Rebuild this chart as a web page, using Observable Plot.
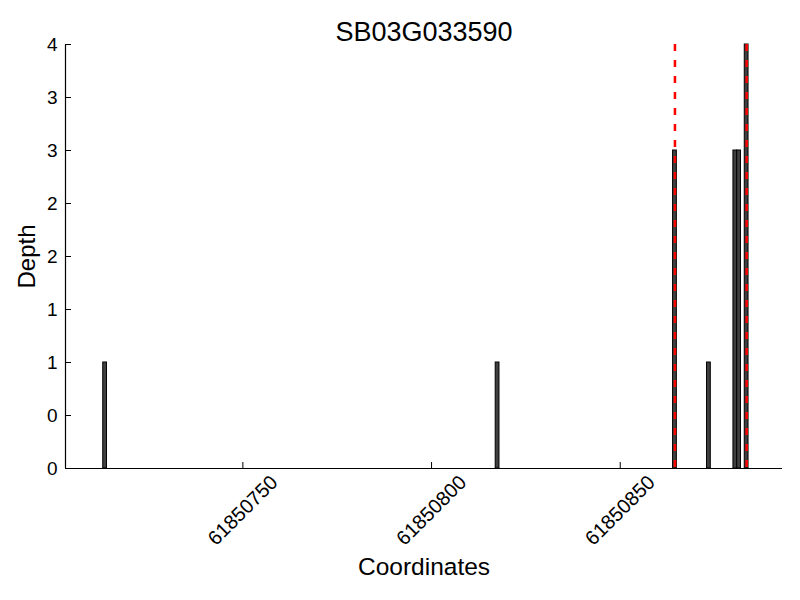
<!DOCTYPE html>
<html>
<head>
<meta charset="utf-8">
<script src="https://cdn.jsdelivr.net/npm/d3@7"></script>
<script src="https://cdn.jsdelivr.net/npm/@observablehq/plot@0.6"></script>
<style>
  html, body { margin: 0; padding: 0; background: #fff; }
  #chart svg { display: block; }
</style>
</head>
<body>
<div id="chart"></div>
<script>
// ---- data ----
const title = "SB03G033590";
const positions = [61850713, 61850817, 61850864, 61850873, 61850880, 61850881, 61850883];
const depths = [1, 1, 3, 1, 3, 3, 4];
const markerPositions = [61850864, 61850883];
const xTicks = [61850750, 61850800, 61850850];
const yTicks = [0, 0.5, 1, 1.5, 2, 2.5, 3, 3.5, 4];
const yTickLabels = ["0", "0", "1", "1", "2", "2", "3", "3", "4"];
const xDomain = [61850703, 61850893];
const yDomain = [0, 4];

const bars = positions.map((p, i) => ({pos: p, depth: depths[i]}));

const font = "'Liberation Sans', Arial, Helvetica, sans-serif";

const chart = Plot.plot({
  width: 800,
  height: 600,
  marginLeft: 65,
  marginRight: 18,
  marginTop: 44,
  marginBottom: 132,
  style: {fontFamily: font, background: "#fff", color: "#000"},
  x: {domain: xDomain, axis: null},
  y: {domain: yDomain, axis: null},
  marks: [
    // one bar per base: [pos, pos + 1)
    Plot.rectY(bars, {x1: d => d.pos, x2: d => d.pos + 1, y1: 0, y2: "depth",
      fill: "#404040", stroke: "#000", strokeWidth: 1}),
    // markers drawn through the middle of their base
    Plot.ruleX(markerPositions, {x: d => d + 0.5, y1: 4, y2: 0, stroke: "#ff0000",
      strokeWidth: 2.5, strokeDasharray: "7,9"}),
    // spines
    Plot.ruleY([0], {x1: xDomain[0], x2: xDomain[1], stroke: "#000", strokeWidth: 1.2}),
    Plot.ruleX([xDomain[0]], {y1: yDomain[0], y2: yDomain[1], stroke: "#000", strokeWidth: 1.2}),
    // inward ticks
    Plot.tickY(yTicks, {y: d => d, insetRight: 711, stroke: "#000"}),
    Plot.tickX(xTicks, {x: d => d, insetTop: 418, stroke: "#000"}),
    // tick labels
    Plot.text(yTicks, {x: xDomain[0], y: d => d, text: (d, i) => yTickLabels[i],
      textAnchor: "end", dx: -8, fontSize: 19, fill: "#000"}),
    Plot.text(xTicks, {x: d => d, y: 0, text: d => String(d), rotate: -45,
      textAnchor: "middle", lineAnchor: "middle", dy: 42, fontSize: 20, fill: "#000"}),
    // titles
    Plot.text([title], {frameAnchor: "top", text: d => d, lineAnchor: "bottom",
      dy: -4, fontSize: 27, fill: "#000"}),
    Plot.text(["Coordinates"], {frameAnchor: "bottom", text: d => d, lineAnchor: "bottom",
      dy: 106, fontSize: 24.5, fill: "#000"}),
    Plot.text(["Depth"], {frameAnchor: "left", text: d => d, rotate: -90,
      textAnchor: "middle", lineAnchor: "middle", dx: -38, fontSize: 24, fill: "#000"})
  ]
});

document.getElementById("chart").appendChild(chart);
</script>
</body>
</html>
